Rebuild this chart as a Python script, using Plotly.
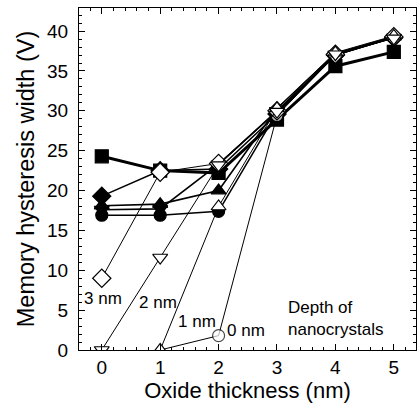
import plotly.graph_objects as go

# ---- data ----
x_all = [0, 1, 2, 3, 4, 5]
sq_y = [24.3, 22.5, 22.2, 28.9, 35.6, 37.4]          # filled square
fd_y = [19.3, 22.5, 22.7, 29.6, 37.0, 39.2]          # filled diamond
fu_y = [18.1, 18.3, 20.0, 30.3, 37.2, 39.3]          # filled up-triangle
fdn_y = [17.6, 17.7, 23.3, 30.0, 37.0, 39.2]         # filled down-triangle
fc_y = [16.9, 16.9, 17.4, 29.8, 37.0, 39.2]          # filled circle
od_y = [9.0, 22.3, 23.4, 30.0, 37.1, 39.3]           # open diamond (3 nm)
odn_y = [0.0, 11.6, 23.2, 29.9, 37.1, 39.1]          # open down-triangle (2 nm)
ou_x = [1, 2, 3, 4, 5]
ou_y = [0.0, 18.0, 30.3, 37.3, 39.4]                 # open up-triangle (1 nm)
oc_x = [1, 2, 3, 4, 5]
oc_y = [0.0, 1.8, 29.4, 37.0, 39.2]                  # open circle (0 nm)

depth_labels = ["3 nm", "2 nm", "1 nm", "0 nm"]
depth_lx = [0.02, 0.96, 1.63, 2.47]
depth_ly = [6.5, 5.9, 3.6, 2.5]

x_title = "Oxide thickness (nm)"
y_title = "Memory hysteresis width (V)"
note = "Depth of<br>nanocrystals"

FONT = "Liberation Sans, Arial, sans-serif"

fig = go.Figure()

def add(x, y, symbol, filled, lw, size, sizes=None):
    fig.add_trace(go.Scatter(
        x=x, y=y, mode="lines+markers",
        line=dict(color="black", width=lw),
        marker=dict(symbol=symbol, size=sizes if sizes else size,
                    color="black" if filled else "white",
                    line=dict(color="black", width=1.2)),
        showlegend=False, hoverinfo="skip"))

add(x_all, fc_y, "circle", True, 1.6, 12)
add(x_all, fdn_y, "triangle-down", True, 1.6, 13)
add(x_all, fu_y, "triangle-up", True, 1.6, 13)
add(x_all, fd_y, "diamond", True, 1.6, 14)
add(x_all, sq_y, "square", True, 3.0, 13)
add(oc_x, oc_y, "circle", False, 1.0, 12, sizes=[0, 12, 12, 12, 12])
add(x_all, od_y, "diamond", False, 1.0, 14)
add(ou_x, ou_y, "triangle-up", False, 1.0, 13)
add(x_all, odn_y, "triangle-down", False, 1.0, 13)

for t, lx, ly in zip(depth_labels, depth_lx, depth_ly):
    fig.add_annotation(x=lx, y=ly, text=t, showarrow=False,
                       font=dict(family=FONT, size=17, color="black"),
                       bgcolor="rgba(0,0,0,0)")
fig.add_annotation(x=3.15, y=4.0, text=note, showarrow=False, xanchor="left",
                   align="left", font=dict(family=FONT, size=17, color="black"))

axis_common = dict(showline=True, linecolor="black", linewidth=1, mirror="allticks",
                   ticks="inside", ticklen=6, tickwidth=1, tickcolor="black",
                   showgrid=False, zeroline=False,
                   tickfont=dict(family=FONT, size=19, color="black"))

fig.update_xaxes(range=[-0.39, 5.38], dtick=1, tick0=0,
                 minor=dict(ticks="inside", dtick=0.2, ticklen=3, tickcolor="black", showgrid=False),
                 title=dict(text=x_title, font=dict(family=FONT, size=22, color="black"), standoff=4),
                 **axis_common)
fig.update_yaxes(range=[0, 42.9], dtick=5, tick0=0,
                 minor=dict(ticks="inside", dtick=1, ticklen=3, tickcolor="black", showgrid=False),
                 title=dict(text=y_title, font=dict(family=FONT, size=23.5, color="black"), standoff=5),
                 ticklabelstandoff=6,
                 **axis_common)

fig.update_layout(width=417, height=405, margin=dict(l=79, r=1, t=8, b=55),
                  plot_bgcolor="white", paper_bgcolor="white",
                  font=dict(family=FONT, color="black"))

fig.write_html("out.html")
